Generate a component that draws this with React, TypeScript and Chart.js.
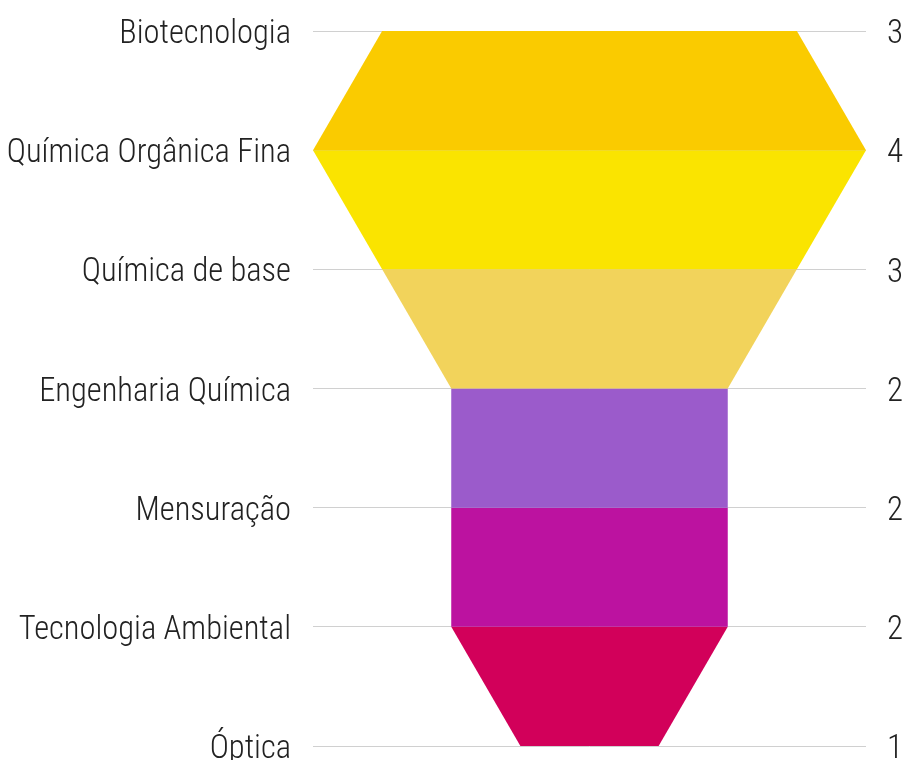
import React, { useEffect, useRef } from "react";
import { Chart, registerables } from "chart.js";

Chart.register(...registerables);

const categories = [
  "Biotecnologia",
  "Química Orgânica Fina",
  "Química de base",
  "Engenharia Química",
  "Mensuração",
  "Tecnologia Ambiental",
  "Óptica",
];
const values = [3, 4, 3, 2, 2, 2, 1];
const bandColors = ["#FACB00", "#FAE400", "#F2D35B", "#9B5BCB", "#BC12A0", "#D2005A"];

const FONT = "Roboto, 'Noto Sans', sans-serif";

export default function App() {
  const ref = useRef<HTMLCanvasElement | null>(null);

  useEffect(() => {
    if (!ref.current) return;
    const datasets = bandColors.map((color, i) => ({
      label: categories[i],
      data: [
        { x: -values[i], y: i },
        { x: values[i], y: i },
        { x: values[i + 1], y: i + 1 },
        { x: -values[i + 1], y: i + 1 },
      ],
      showLine: true,
      fill: "shape",
      backgroundColor: color,
      borderColor: color,
      borderWidth: 0,
      pointRadius: 0,
      pointHoverRadius: 0,
      tension: 0,
      xAxisID: "x",
      yAxisID: "y",
    }));

    const fitLeft = (s: any) => {
      s.width = 313;
      s.paddingTop = 0;
      s.paddingBottom = 0;
    };
    const fitRight = (s: any) => {
      s.width = 43;
      s.paddingTop = 0;
      s.paddingBottom = 0;
    };

    const chart = new Chart(ref.current, {
      type: "scatter",
      data: { datasets: datasets as any },
      options: {
        animation: false,
        responsive: false,
        maintainAspectRatio: false,
        layout: { padding: { top: 31, bottom: 14, left: 0, right: 0 } },
        plugins: {
          legend: { display: false },
          tooltip: { enabled: false },
        },
        scales: {
          x: {
            type: "linear",
            min: -4,
            max: 4,
            display: false,
          },
          y: {
            type: "linear",
            position: "left",
            reverse: true,
            min: 0,
            max: categories.length - 1,
            afterFit: fitLeft,
            afterBuildTicks: (s: any) => {
              s.ticks = categories.map((_, i) => ({ value: i }));
            },
            border: { display: false },
            grid: {
              color: "#d0d0d0",
              lineWidth: 1,
              drawTicks: false,
            },
            ticks: {
              padding: 22,
              labelOffset: 4,
              color: "#222",
              font: { family: FONT, size: 32.5, weight: "300 condensed" },
              callback: (v: any) => categories[v as number] ?? "",
            },
          },
          y2: {
            type: "linear",
            position: "right",
            reverse: true,
            min: 0,
            max: categories.length - 1,
            afterFit: fitRight,
            afterBuildTicks: (s: any) => {
              s.ticks = categories.map((_, i) => ({ value: i }));
            },
            border: { display: false },
            grid: { display: false, drawTicks: false },
            ticks: {
              padding: 21,
              labelOffset: 4,
              color: "#222",
              font: { family: FONT, size: 33, weight: "300 condensed" },
              callback: (v: any) => String(values[v as number] ?? ""),
            },
          },
        },
      } as any,
    });
    return () => chart.destroy();
  }, []);

  return (
    <div
      style={{
        position: "fixed",
        left: 0,
        top: 0,
        width: 909,
        height: 760,
        overflow: "hidden",
      }}
    >
      <canvas ref={ref} width={909} height={760} style={{ display: "block" }} />
    </div>
  );
}
